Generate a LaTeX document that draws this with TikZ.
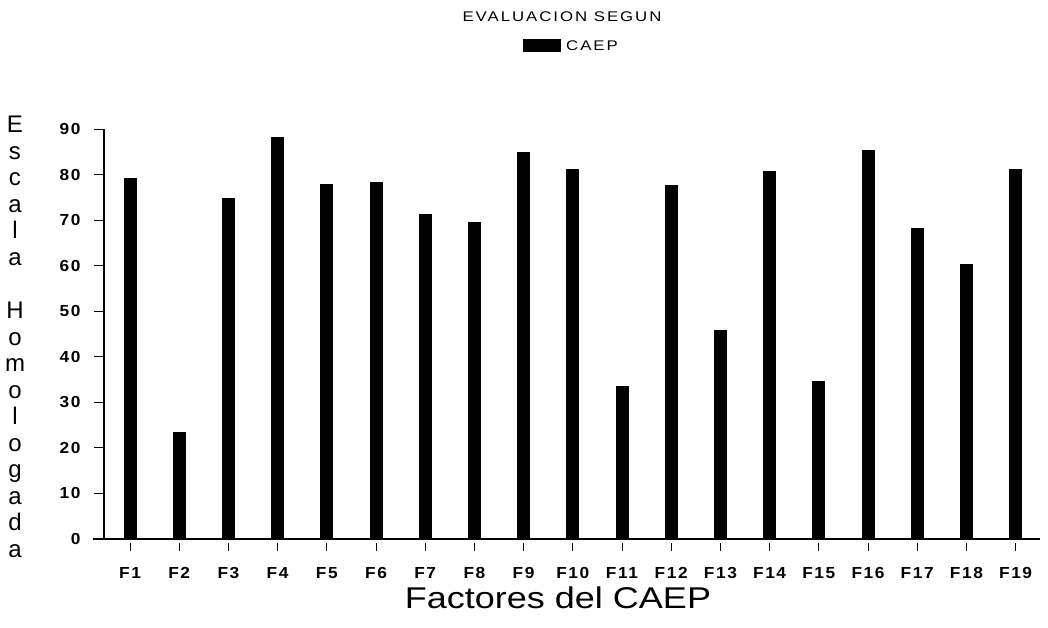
\documentclass[tikz,border=0pt]{standalone}
\usepackage{fontspec}
\setmainfont{Liberation Sans}
\newfontfamily\spacedfont[LetterSpace=10,FakeStretch=1.08]{Liberation Sans}
\newfontfamily\widefont[LetterSpace=14,FakeStretch=1.2]{Liberation Sans}
\newfontfamily\widemain[FakeStretch=1.2]{Liberation Sans}
\begin{document}
\begin{tikzpicture}[x=1pt,y=-1pt,
  bar/.style={fill=black,draw=none},
  axis/.style={line width=1.3pt},
  tickmark/.style={line width=0.9pt},
  ticklab/.style={font=\spacedfont\bfseries\fontsize{16}{16}\selectfont},
  titlelab/.style={font=\widefont\fontsize{14}{14}\selectfont},
  ylab/.style={font=\fontsize{24}{24}\selectfont,anchor=base}]
\useasboundingbox (0,0) rectangle (1048,628);

% title and legend
\node[titlelab] (T) at (562,17) {EVALUACION SEGUN};
\node[bar,minimum width=38pt,minimum height=13pt,inner sep=0pt] (K) at (542,46) {};
\node[titlelab,anchor=west,inner sep=0pt] (KL) at (566,46) {CAEP};

% axes
\coordinate (O) at (104,539);
\coordinate (Xa) at (93,539);
\coordinate (Xb) at (1040,539);
\coordinate (Yt) at (104,129);
\draw[axis] (Xa) -- (Xb);
\draw[axis] (O) -- (Yt);

% y ticks
\foreach \v in {0,10,...,90}{
  \coordinate (yt\v) at (104,539-4.556*\v);
  \draw[tickmark] (yt\v) -- ++(-10,0);
  \node[ticklab,anchor=east] (yl\v) at (84,539-4.556*\v) {\v};
}

% bars
\foreach \v [count=\i] in {79.2,23.5,74.8,88.2,77.9,78.4,71.3,69.6,84.9,81.2,
                           33.6,77.7,45.9,80.8,34.7,85.4,68.3,60.4,81.2}{
  \coordinate (b\i) at (130+49.2*\i-49.2,539);
  \fill[bar] ([xshift=-6.5pt]b\i) rectangle ([xshift=6.5pt,yshift=4.556*\v pt]b\i);
  \draw[tickmark] ([yshift=-4pt]b\i) -- ([yshift=-12pt]b\i);
  \node[ticklab] (fl\i) at (130+49.2*\i-49.2,573) {F\i};
}

% axis titles
\node[font=\widemain\fontsize{30}{30}\selectfont] (XT) at (558,598) {Factores del CAEP};
\foreach \c [count=\k from 0] in {E,s,c,a,l,a,{},H,o,m,o,l,o,g,a,d,a}{
  \node[ylab] (yc\k) at (15,133+26.5*\k) {\c};
}
\end{tikzpicture}
\end{document}
